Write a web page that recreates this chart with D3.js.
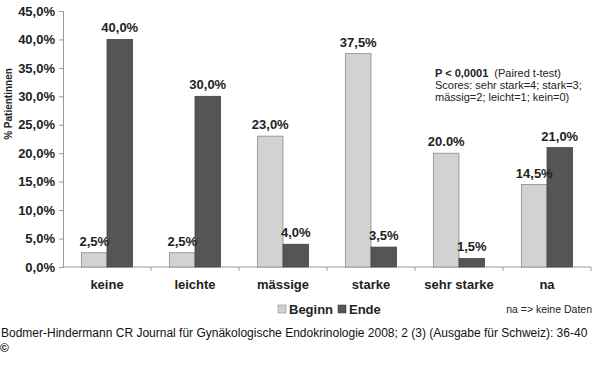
<!DOCTYPE html>
<html>
<head>
<meta charset="utf-8">
<script src="https://cdn.jsdelivr.net/npm/d3@7"></script>
<style>
  body { margin: 0; background: #fff; }
  svg text { font-family: "Liberation Sans", Arial, Helvetica, sans-serif; }
</style>
</head>
<body>
<div id="chart"></div>
<script>
var categories = ["keine", "leichte", "mässige", "starke", "sehr starke", "na"];
var series = ["Beginn", "Ende"];
var beginn = [2.5, 2.5, 23.0, 37.5, 20.0, 14.5];
var ende = [40.0, 30.0, 4.0, 3.5, 1.5, 21.0];
var beginnLabels = ["2,5%", "2,5%", "23,0%", "37,5%", "20.0%", "14,5%"];
var endeLabels = ["40,0%", "30,0%", "4,0%", "3,5%", "1,5%", "21,0%"];
var yTicks = [0, 5, 10, 15, 20, 25, 30, 35, 40, 45];

var w = 600, h = 386;
var pLeft = 63, pRight = 591, pTop = 11, pBottom = 267;
var colors = { Beginn: "#d2d2d2", Ende: "#555555" };

var svg = d3.select("#chart")
	.append("svg")
	.attr("width", w)
	.attr("height", h);

var x = d3.scaleBand()
	.domain(categories)
	.range([pLeft, pRight]);

var x1 = d3.scaleBand()
	.domain(series)
	.range([0, 51]);

var y = d3.scaleLinear()
	.domain([0, 45])
	.range([pBottom, pTop]);

var fmt = function(v) { return d3.format(".1f")(v).replace(".", ",") + "%"; };

// y axis
var yAxis = svg.append("g")
	.attr("transform", "translate(" + pLeft + ",0)")
	.call(d3.axisLeft(y).tickValues(yTicks).tickFormat(fmt).tickSize(4).tickPadding(4));
yAxis.select(".domain").attr("stroke", "#999");
yAxis.selectAll(".tick line").attr("stroke", "#999");
yAxis.selectAll(".tick text")
	.attr("font-size", "13px")
	.attr("font-weight", "bold")
	.attr("fill", "#222");

// x axis: ticks at category boundaries
var xAxis = svg.append("g");
xAxis.append("line")
	.attr("x1", pLeft).attr("x2", pRight)
	.attr("y1", pBottom).attr("y2", pBottom)
	.attr("stroke", "#999");
xAxis.selectAll(".xtick")
	.data(categories)
	.enter()
	.append("line")
	.attr("x1", function(d) { return x(d) + x.bandwidth(); })
	.attr("x2", function(d) { return x(d) + x.bandwidth(); })
	.attr("y1", pBottom)
	.attr("y2", pBottom + 4)
	.attr("stroke", "#999");
xAxis.selectAll(".xlab")
	.data(categories)
	.enter()
	.append("text")
	.attr("x", function(d) { return x(d) + x.bandwidth() / 2; })
	.attr("y", 289)
	.attr("text-anchor", "middle")
	.attr("font-size", "13px")
	.attr("font-weight", "bold")
	.attr("fill", "#222")
	.text(function(d) { return d; });

// y label
svg.append("text")
	.attr("transform", "translate(12,104) rotate(-90)")
	.attr("text-anchor", "middle")
	.attr("font-size", "10px")
	.attr("font-weight", "bold")
	.attr("fill", "#222")
	.text("% Patientinnen");

// bars
var rows = [];
for ( var i = 0; i < categories.length; i++ ) {
	rows.push({ cat: categories[i], s: "Beginn", v: beginn[i], lab: beginnLabels[i] });
	rows.push({ cat: categories[i], s: "Ende", v: ende[i], lab: endeLabels[i] });
}
var off = (x.bandwidth() - 51) / 2;

svg.selectAll(".bar")
	.data(rows)
	.enter()
	.append("rect")
	.attr("x", function(d) { return x(d.cat) + off + x1(d.s); })
	.attr("y", function(d) { return y(d.v); })
	.attr("width", x1.bandwidth())
	.attr("height", function(d) { return y(0) - y(d.v); })
	.attr("fill", function(d) { return colors[d.s]; })
	.attr("stroke", function(d) { return d.s == "Beginn" ? "#8a8a8a" : "#444"; })
	.attr("stroke-width", 0.8);

svg.selectAll(".vlab")
	.data(rows)
	.enter()
	.append("text")
	.attr("x", function(d) { return x(d.cat) + off + x1(d.s) + x1.bandwidth() / 2; })
	.attr("y", function(d) { return y(d.v) - 7; })
	.attr("text-anchor", "middle")
	.attr("font-size", "13px")
	.attr("font-weight", "bold")
	.attr("fill", "#222")
	.text(function(d) { return d.lab; });

// annotation
var ann = svg.append("text")
	.attr("x", 435)
	.attr("y", 77)
	.attr("font-size", "11px")
	.attr("fill", "#222");
ann.append("tspan").attr("font-weight", "bold").text("P < 0,0001");
ann.append("tspan").attr("dx", 6).text("(Paired t-test)");
svg.append("text").attr("x", 435).attr("y", 89).attr("font-size", "11px").attr("fill", "#222")
	.text("Scores: sehr stark=4; stark=3;");
svg.append("text").attr("x", 435).attr("y", 101).attr("font-size", "11px").attr("fill", "#222")
	.text("mässig=2; leicht=1; kein=0)");

// legend
var legX = [278, 338];
series.forEach(function(s, i) {
	svg.append("rect")
		.attr("x", legX[i]).attr("y", 305)
		.attr("width", 8).attr("height", 8)
		.attr("fill", colors[s])
		.attr("stroke", s == "Beginn" ? "#8a8a8a" : "#444")
		.attr("stroke-width", 0.6);
	svg.append("text")
		.attr("x", legX[i] + 11).attr("y", 314)
		.attr("font-size", "13px")
		.attr("font-weight", "bold")
		.attr("fill", "#222")
		.text(s);
});

svg.append("text")
	.attr("x", 592).attr("y", 313)
	.attr("text-anchor", "end")
	.attr("font-size", "10.5px")
	.attr("fill", "#222")
	.text("na => keine Daten");

// source
svg.append("text")
	.attr("x", 1).attr("y", 337)
	.attr("font-size", "12px")
	.attr("fill", "#111")
	.text("Bodmer-Hindermann CR Journal für Gynäkologische Endokrinologie 2008; 2 (3) (Ausgabe für Schweiz): 36-40");
svg.append("text")
	.attr("x", 0).attr("y", 352)
	.attr("font-size", "12px")
	.attr("font-weight", "bold")
	.attr("fill", "#111")
	.text("©");
</script>
</body>
</html>
